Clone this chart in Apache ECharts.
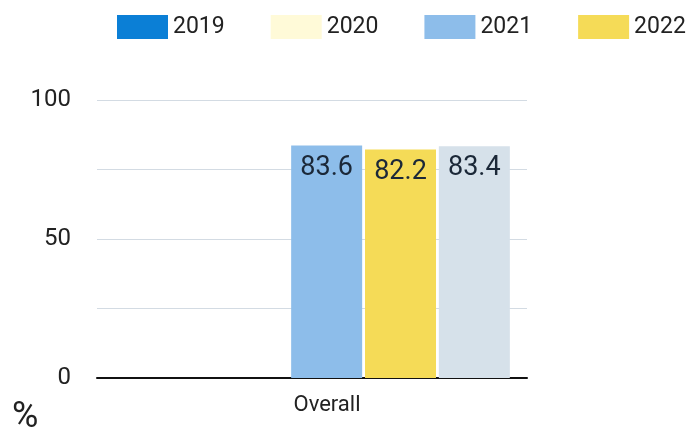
<!DOCTYPE html>
<html>
<head>
<meta charset="utf-8">
<style>
  html, body { margin: 0; padding: 0; background: #ffffff; }
  #chart { width: 690px; height: 432px; }
</style>
<script src="https://cdn.jsdelivr.net/npm/echarts@6/dist/echarts.min.js"></script>
</head>
<body>
<div id="chart"></div>
<script>
// Chart data
const categories = ['Overall'];
const legendYears = ['2019', '2020', '2021', '2022'];
const values2019 = [null];
const values2020 = [null];
const values2021 = [83.6];
const values2022 = [82.2];
const valuesComparison = [83.4];
const yTickLabels = [0, 50, 100];

const FONT = 'Roboto';
const TEXT = '#222222';

const chart = echarts.init(document.getElementById('chart'), null, { renderer: 'canvas' });

const valueLabel = {
  show: true,
  position: 'insideTop',
  distance: 9,
  fontFamily: FONT,
  fontSize: 27,
  color: '#1b2838',
  formatter: p => p.value.toFixed(1)
};

chart.setOption({
  animation: false,
  backgroundColor: '#ffffff',
  title: {
    text: '%',
    left: 7,
    top: 395,
    textStyle: { fontFamily: FONT, fontSize: 36, fontWeight: 'normal', color: TEXT }
  },
  legend: {
    data: legendYears,
    left: 112,
    width: 640,
    top: 10,
    icon: 'rect',
    itemWidth: 51,
    itemHeight: 24,
    itemGap: 46,
    textStyle: { fontFamily: FONT, fontSize: 23, color: TEXT }
  },
  grid: [
    // axes, gridlines and category label
    { left: 97, right: 163, top: 100, bottom: 54 },
    // bar area
    { left: 291, width: 219, top: 100, bottom: 54 }
  ],
  xAxis: [
    {
      type: 'category',
      gridIndex: 0,
      data: categories,
      axisLine: { lineStyle: { color: '#111111', width: 2 } },
      axisTick: { show: false },
      axisLabel: {
        fontFamily: FONT, fontSize: 22, color: TEXT, margin: 16,
        padding: [0, 0, 0, 30]
      }
    },
    { type: 'category', gridIndex: 1, data: categories, show: false }
  ],
  yAxis: [
    {
      type: 'value',
      gridIndex: 0,
      min: 0,
      max: 100,
      interval: 25,
      axisLine: { show: false },
      axisTick: { show: false },
      splitLine: { lineStyle: { color: '#d3dbe3', width: 1 } },
      axisLabel: {
        fontFamily: FONT, fontSize: 24, color: TEXT, margin: 26,
        formatter: v => (yTickLabels.includes(v) ? String(v) : '')
      }
    },
    { type: 'value', gridIndex: 1, min: 0, max: 100, show: false }
  ],
  series: [
    { name: '2019', type: 'bar', xAxisIndex: 0, yAxisIndex: 0, data: values2019, itemStyle: { color: '#0b7fd6' } },
    { name: '2020', type: 'bar', xAxisIndex: 0, yAxisIndex: 0, data: values2020, itemStyle: { color: '#fffad8' } },
    {
      name: '2021', type: 'bar', xAxisIndex: 1, yAxisIndex: 1, data: values2021,
      barWidth: 71, barGap: '4%',
      itemStyle: { color: '#8dbdea' }, label: valueLabel
    },
    {
      name: '2022', type: 'bar', xAxisIndex: 1, yAxisIndex: 1, data: values2022,
      barWidth: 71, barGap: '4%',
      itemStyle: { color: '#f5db57' }, label: valueLabel
    },
    {
      name: 'Comparison', type: 'bar', xAxisIndex: 1, yAxisIndex: 1, data: valuesComparison,
      barWidth: 71, barGap: '4%',
      itemStyle: { color: '#d6e1ea' }, label: valueLabel
    }
  ]
});
</script>
</body>
</html>
